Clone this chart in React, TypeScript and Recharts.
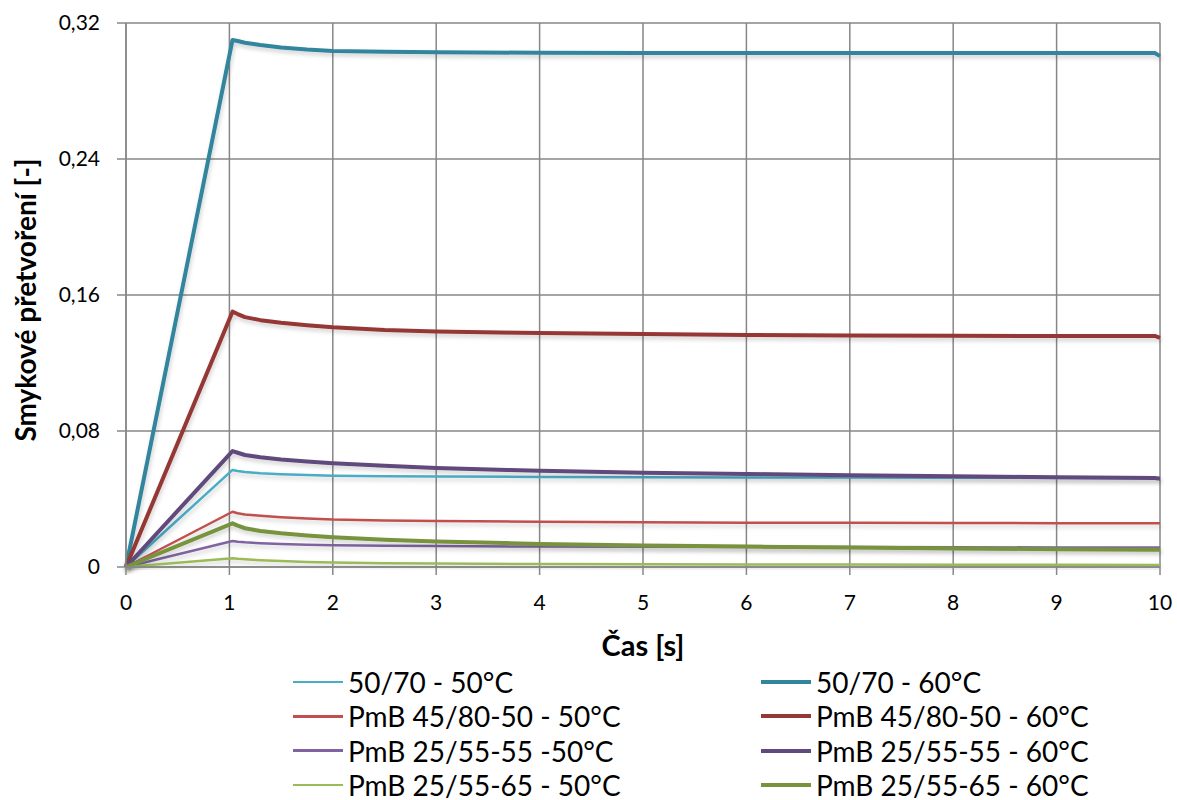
import { LineChart, Line, XAxis, YAxis, CartesianGrid, Legend, Label } from 'recharts'

// time axis [s]
const times = [0, 1.03, 1.08, 1.15, 1.3, 1.5, 1.75, 2, 2.5, 3, 4, 5, 6, 7, 8, 9, 9.95, 10]

// shear strain values per series, one per time point
const s5070_50 = [0, 0.0571, 0.0565, 0.0559, 0.0552, 0.0546, 0.0541, 0.0537, 0.0534, 0.0532, 0.053, 0.0528, 0.0527, 0.0526, 0.0525, 0.0524, 0.0524, 0.0523]
const s5070_60 = [0, 0.31, 0.3094, 0.3084, 0.307, 0.3056, 0.3044, 0.3036, 0.3031, 0.3028, 0.3025, 0.3024, 0.3023, 0.3023, 0.3023, 0.3023, 0.3023, 0.3005]
const s4580_50 = [0, 0.0325, 0.0316, 0.0309, 0.0301, 0.0293, 0.0285, 0.0279, 0.0274, 0.027, 0.0266, 0.0263, 0.0261, 0.026, 0.0259, 0.0258, 0.0258, 0.0257]
const s4580_60 = [0, 0.1502, 0.1488, 0.147, 0.1452, 0.1437, 0.1422, 0.141, 0.1394, 0.1385, 0.1376, 0.137, 0.1365, 0.1362, 0.136, 0.1359, 0.1359, 0.1348]
const s2555_50 = [0, 0.0153, 0.0149, 0.0145, 0.014, 0.0135, 0.0131, 0.0128, 0.0125, 0.0123, 0.012, 0.0119, 0.0118, 0.0117, 0.0116, 0.0115, 0.0115, 0.0114]
const s2555_60 = [0, 0.0682, 0.0672, 0.0659, 0.0645, 0.0632, 0.062, 0.061, 0.0596, 0.0582, 0.0566, 0.0555, 0.0547, 0.054, 0.0534, 0.0528, 0.0523, 0.0519]
const s2565_50 = [0, 0.0051, 0.0048, 0.0045, 0.004, 0.0035, 0.003, 0.0026, 0.0022, 0.002, 0.0017, 0.0016, 0.0015, 0.0014, 0.0013, 0.0013, 0.0012, 0.0012]
const s2565_60 = [0, 0.0257, 0.0243, 0.0228, 0.0212, 0.0198, 0.0185, 0.0175, 0.016, 0.015, 0.0136, 0.0127, 0.012, 0.0114, 0.0109, 0.0105, 0.0102, 0.0101]

const xTicks = [0, 1, 2, 3, 4, 5, 6, 7, 8, 9, 10]
const yTicks = [0, 0.08, 0.16, 0.24, 0.32]

const series = [
  { key: 'a50', name: '50/70 - 50°C', values: s5070_50, color: '#4BACC6', width: 2.5 },
  { key: 'a60', name: '50/70 - 60°C', values: s5070_60, color: '#31859C', width: 4 },
  { key: 'b50', name: 'PmB 45/80-50 - 50°C', values: s4580_50, color: '#C0504D', width: 2.5 },
  { key: 'b60', name: 'PmB 45/80-50 - 60°C', values: s4580_60, color: '#953735', width: 4 },
  { key: 'c50', name: 'PmB 25/55-55 -50°C', values: s2555_50, color: '#8064A2', width: 2.5 },
  { key: 'c60', name: 'PmB 25/55-55 - 60°C', values: s2555_60, color: '#604A7B', width: 4 },
  { key: 'd50', name: 'PmB 25/55-65 - 50°C', values: s2565_50, color: '#9BBB59', width: 2.5 },
  { key: 'd60', name: 'PmB 25/55-65 - 60°C', values: s2565_60, color: '#77933C', width: 4 },
]

const data = times.map((t, i) => {
  const row: Record<string, number> = { t }
  series.forEach((s) => { row[s.key] = s.values[i] })
  return row
})

const font = 'Lato, "Open Sans", sans-serif'
const grey = '#878787'

const fmt = (v: number) => (v === 0 ? '0' : v.toFixed(2).replace('.', ','))

function LegendBox() {
  return (
    <div
      style={{
        display: 'grid',
        gridTemplateColumns: '468px 400px',
        marginLeft: 293,
        fontFamily: font,
        fontSize: 28,
        color: '#000',
      }}
    >
      {series.map((s) => (
        <div key={s.key} style={{ display: 'flex', alignItems: 'center', height: 34.3 }}>
          <span style={{ display: 'inline-block', width: 50, height: s.width, background: s.color, marginRight: 5 }} />
          <span>{s.name}</span>
        </div>
      ))}
    </div>
  )
}

function YTitle() {
  return (
    <text
      x={25}
      y={300}
      transform="rotate(-90, 25, 300)"
      textAnchor="middle"
      dominantBaseline="central"
      style={{ fill: '#000', fontSize: 28, fontWeight: 700, fontFamily: font }}
    >
      Smykové přetvoření [-]
    </text>
  )
}

export default function App() {
  return (
    <div style={{ position: 'absolute', left: 0, top: 0, background: '#fff' }}>
      <LineChart
        width={1177}
        height={800}
        data={data}
        margin={{ top: 23, right: 17, left: 0, bottom: 0 }}
      >
        <defs>
          <filter id="shade" x="-5%" y="-5%" width="110%" height="130%">
            <feDropShadow dx="1" dy="3" stdDeviation="2" floodColor="#000" floodOpacity="0.18" />
          </filter>
        </defs>
        <CartesianGrid stroke={grey} strokeWidth={1.5} horizontalValues={yTicks} verticalValues={xTicks} />
        <XAxis
          dataKey="t"
          type="number"
          domain={[0, 10]}
          ticks={xTicks}
          height={98}
          stroke={grey}
          strokeWidth={1.5}
          tickSize={8}
          tickMargin={20}
          tick={{ fill: '#000', fontSize: 21, fontFamily: font }}
        >
          <Label
            value="Čas [s]"
            position="insideTop"
            offset={68}
            style={{ fill: '#000', fontSize: 29, fontWeight: 700, fontFamily: font }}
          />
        </XAxis>
        <YAxis
          type="number"
          domain={[0, 0.32]}
          ticks={yTicks}
          width={126}
          stroke={grey}
          strokeWidth={1.5}
          tickSize={9}
          tickMargin={17}
          tickFormatter={fmt}
          tick={{ fill: '#000', fontSize: 21, fontFamily: font }}
        >
          <Label content={() => <YTitle />} />
        </YAxis>
        <Legend verticalAlign="bottom" content={() => <LegendBox />} wrapperStyle={{ height: 135 }} />
        {series.map((s) => (
          <Line
            key={s.key}
            dataKey={s.key}
            name={s.name}
            type="linear"
            stroke={s.color}
            strokeWidth={s.width}
            strokeLinejoin="round"
            filter="url(#shade)"
            dot={false}
            isAnimationActive={false}
          />
        ))}
      </LineChart>
    </div>
  )
}
